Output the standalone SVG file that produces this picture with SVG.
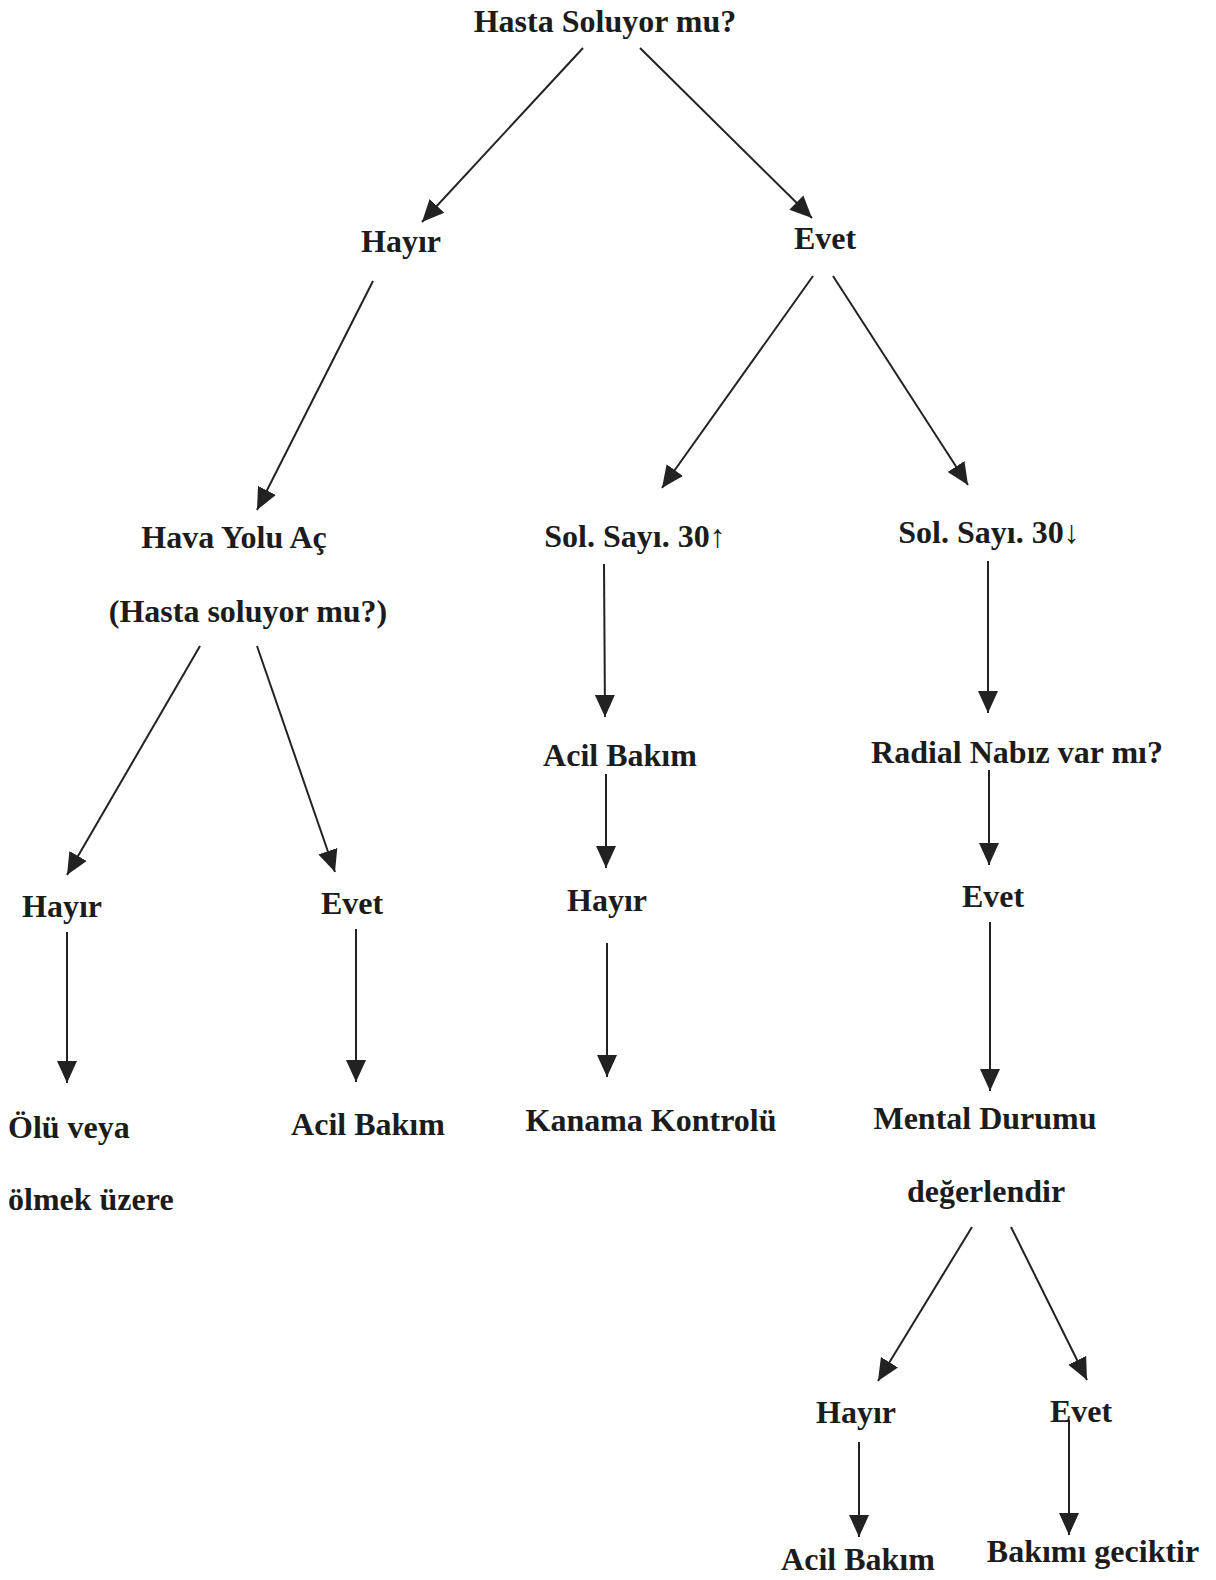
<svg xmlns="http://www.w3.org/2000/svg" width="1216" height="1580" viewBox="0 0 1216 1580">
<style>
.t{font-family:"Liberation Serif","Times New Roman",serif;font-weight:bold;font-size:32px;fill:#1c1c1c;text-anchor:middle}
.s{text-anchor:start}
.ar{font-family:"DejaVu Serif",serif;font-weight:normal;font-size:30px}
.c line{stroke:#222;stroke-width:2;marker-end:url(#ah)}
</style>
<defs>
<marker id="ah" markerUnits="userSpaceOnUse" markerWidth="24" markerHeight="22" viewBox="0 0 24 22" refX="22" refY="11" orient="auto">
<path d="M0,1 L22,11 L0,21 z" fill="#222"/>
</marker>
</defs>
<rect width="1216" height="1580" fill="#fff"/>
<g id="connectors" class="c">
<line x1="583" y1="48" x2="422" y2="222"/>
<line x1="640" y1="48" x2="812" y2="218"/>
<line x1="373" y1="281" x2="257" y2="510"/>
<line x1="813" y1="276" x2="662" y2="488"/>
<line x1="833" y1="276" x2="968" y2="485"/>
<line x1="200" y1="646" x2="67" y2="875"/>
<line x1="257" y1="646" x2="335" y2="872"/>
<line x1="604" y1="564" x2="605" y2="717"/>
<line x1="606" y1="774" x2="606" y2="868"/>
<line x1="607" y1="943" x2="607" y2="1077"/>
<line x1="988" y1="561" x2="988" y2="713"/>
<line x1="989" y1="770" x2="989" y2="865"/>
<line x1="990" y1="922" x2="990" y2="1091"/>
<line x1="67" y1="932" x2="67" y2="1083"/>
<line x1="356" y1="929" x2="356" y2="1082"/>
<line x1="972" y1="1227" x2="878" y2="1381"/>
<line x1="1011" y1="1227" x2="1087" y2="1380"/>
<line x1="859" y1="1442" x2="859" y2="1537"/>
<line x1="1069" y1="1420" x2="1069" y2="1535"/>
</g>
<g id="n-root"><text class="t" x="605" y="32">Hasta Soluyor mu?</text></g>
<g id="n-hayir1"><text class="t" x="401" y="252">Hayır</text></g>
<g id="n-evet1"><text class="t" x="825" y="249">Evet</text></g>
<g id="n-havayolu"><text class="t" x="234" y="548">Hava Yolu Aç</text><text class="t" x="248" y="622">(Hasta soluyor mu?)</text></g>
<g id="n-sol-up"><text class="t" x="635" y="547">Sol. Sayı. 30↑</text></g>
<g id="n-sol-down"><text class="t" x="989" y="543">Sol. Sayı. 30↓</text></g>
<g id="n-acil1"><text class="t" x="620" y="766">Acil Bakım</text></g>
<g id="n-radial"><text class="t" x="1017" y="763">Radial Nabız var mı?</text></g>
<g id="n-hayir-mid"><text class="t" x="607" y="911">Hayır</text></g>
<g id="n-evet-right"><text class="t" x="993" y="907">Evet</text></g>
<g id="n-hayir-left"><text class="t" x="62" y="917">Hayır</text></g>
<g id="n-evet-left"><text class="t" x="352" y="914">Evet</text></g>
<g id="n-olu"><text class="t s" x="8" y="1138">Ölü veya</text><text class="t s" x="8" y="1210">ölmek üzere</text></g>
<g id="n-acil-left"><text class="t" x="368" y="1135">Acil Bakım</text></g>
<g id="n-kanama"><text class="t" x="651" y="1131">Kanama Kontrolü</text></g>
<g id="n-mental"><text class="t" x="985" y="1129">Mental Durumu</text><text class="t" x="986" y="1202">değerlendir</text></g>
<g id="n-hayir-bottom"><text class="t" x="856" y="1423">Hayır</text></g>
<g id="n-evet-bottom"><text class="t" x="1081" y="1422">Evet</text></g>
<g id="n-acil-bottom"><text class="t" x="858" y="1570">Acil Bakım</text></g>
<g id="n-bakimi"><text class="t" x="1093" y="1562">Bakımı geciktir</text></g>
</svg>
